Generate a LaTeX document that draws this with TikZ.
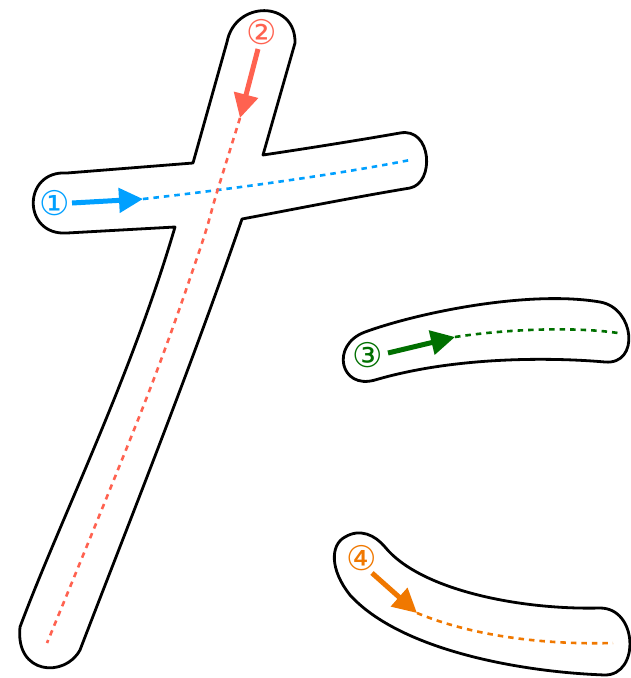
\documentclass[tikz,border=0pt]{standalone}
\usepackage{fontspec}
\newfontfamily\circfont{DejaVu Sans}
\usetikzlibrary{arrows.meta}
\definecolor{cblue}{RGB}{0,160,255}
\definecolor{cred}{RGB}{255,98,80}
\definecolor{cgreen}{RGB}{0,112,0}
\definecolor{corange}{RGB}{240,120,0}
\tikzset{
  outline/.style={draw=black, line width=2.8pt, line join=round, fill=white},
  guide/.style={line width=2.6pt, dash pattern=on 5.5pt off 5pt},
  dirarrow/.style={line width=5pt, -{Triangle[length=24pt,width=24pt]}},
  numlabel/.style={font=\circfont\fontsize{34}{34}\selectfont, inner sep=0pt}
}
\begin{document}
\begin{tikzpicture}[x=1pt,y=-1pt]
\useasboundingbox (0,0) rectangle (631,678);
% stroke 1 + 2 outline
\draw[outline] (227,42) .. controls (235,0) and (296,0) .. (295,43)
  -- (263,155)
  .. controls (310,148) and (360,140) .. (400,133)
  .. controls (432,127) and (435,183) .. (410,188)
  .. controls (350,198) and (290,210) .. (242,219)
  .. controls (190,370) and (130,520) .. (80,650)
  .. controls (65,678) and (15,675) .. (20,627)
  .. controls (60,520) and (130,380) .. (175,227)
  -- (67,233)
  .. controls (22,236) and (22,170) .. (67,173)
  -- (193,163)
  -- cycle;
% stroke 3 outline
\draw[outline] (375,380) .. controls (340,390) and (330,345) .. (365,332)
  .. controls (420,312) and (530,290) .. (600,302)
  .. controls (635,308) and (640,365) .. (605,362)
  .. controls (560,358) and (460,355) .. cycle;
% stroke 4 outline
\draw[outline] (345,537) .. controls (360,528) and (375,535) .. (385,547)
  .. controls (420,590) and (520,610) .. (600,608)
  .. controls (638,608) and (640,675) .. (605,675)
  .. controls (520,672) and (400,650) .. (350,595)
  .. controls (330,570) and (330,545) .. cycle;
% guide coordinates
\coordinate (g1s) at (143,199);
\coordinate (g1e) at (410,160);
\coordinate (g2s) at (240,118);
\coordinate (g2e) at (47,643);
\coordinate (g3s) at (455,337);
\coordinate (g3e) at (618,333);
\coordinate (g4s) at (417,613);
\coordinate (g4e) at (613,643);
% dashed guides
\draw[guide, cblue] (g1s) .. controls (250,187) and (350,172) .. (g1e);
\draw[guide, cred] plot[smooth, tension=0.6] coordinates {(240,118) (217,192) (198,255) (145,402) (47,643)};
\draw[guide, cgreen] (g3s) .. controls (500,330) and (570,326) .. (g3e);
\draw[guide, corange] (g4s) .. controls (470,635) and (540,645) .. (g4e);
% labels
\node[numlabel, text=cblue] (n1) at (55,203) {①};
\node[numlabel, text=cred] (n2) at (262,32) {②};
\node[numlabel, text=cgreen] (n3) at (368,355) {③};
\node[numlabel, text=corange] (n4) at (362,558) {④};
% arrows
\coordinate (a1s) at (72,203);
\coordinate (a2s) at (258,49);
\coordinate (a3s) at (388,353);
\coordinate (a4s) at (372,573);
\draw[dirarrow, cblue] (a1s) -- (g1s);
\draw[dirarrow, cred] (a2s) -- (g2s);
\draw[dirarrow, cgreen] (a3s) -- (g3s);
\draw[dirarrow, corange] (a4s) -- (g4s);
\end{tikzpicture}
\end{document}
